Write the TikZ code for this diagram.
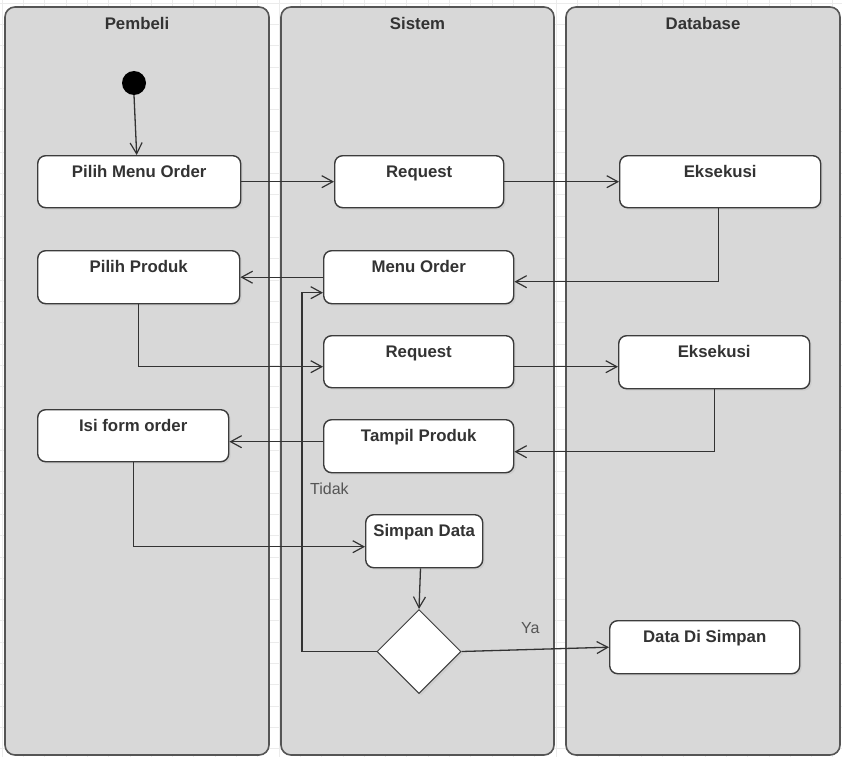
\documentclass[tikz,border=0pt]{standalone}
\usepackage{fontspec}
\setmainfont{Liberation Sans}
\usetikzlibrary{arrows.meta,shapes.geometric,shadows}

\definecolor{lanefill}{HTML}{D8D8D8}
\definecolor{lanedraw}{HTML}{555555}
\definecolor{boxdraw}{HTML}{3C3C3C}
\definecolor{ink}{HTML}{333333}
\definecolor{guard}{HTML}{555555}
\definecolor{gridc}{HTML}{EBEBEB}

\tikzset{
  lane/.style={draw=lanedraw, fill=lanefill, line width=1.6pt, rounded corners=10pt},
  lanetitle/.style={font=\bfseries\fontsize{16.8}{19}\selectfont, text=ink, anchor=base, inner sep=0pt},
  act/.style={draw=boxdraw, fill=white, line width=1.4pt, rounded corners=8pt,
    anchor=north west, inner sep=0pt,
    drop shadow={shadow xshift=2pt, shadow yshift=-2pt, opacity=0.12}},
  acttext/.style={font=\bfseries\fontsize{16.8}{19}\selectfont, text=ink,
    anchor=base, inner sep=0pt, yshift=-22.6pt},
  decision/.style={diamond, draw=boxdraw, fill=white, line width=1pt, aspect=1,
    minimum size=84pt, inner sep=0pt,
    drop shadow={shadow xshift=2pt, shadow yshift=-2pt, opacity=0.12}},
  startnode/.style={circle, fill=black, minimum size=24pt, inner sep=0pt},
  flow/.style={draw=ink, line width=1.3pt, -{Straight Barb[length=11pt,width=12pt,line width=1.2pt]}},
  guardtext/.style={font=\fontsize{16}{19}\selectfont, text=guard, anchor=base west, inner sep=0pt}
}

\begin{document}
\begin{tikzpicture}[x=1pt, y=-1pt]
  \useasboundingbox (0,0) rectangle (842,757);
  \fill[white] (0,0) rectangle (842,757);
  % faint background grid
  \foreach \k in {0,...,39} {
    \draw[gridc, line width=0.6pt] (0, 3+21.3*\k) -- (842, 3+21.3*\k);
    \draw[gridc, line width=0.6pt] (2+21.3*\k, 0) -- (2+21.3*\k, 757);
  }

  % swimlanes
  \draw[lane] (5,7) rectangle (269,755);
  \draw[lane] (281,7) rectangle (554,755);
  \draw[lane] (566,7) rectangle (840,755);
  \node[lanetitle] (tPembeli) at (137,29.5) {Pembeli};
  \node[lanetitle] (tSistem) at (417.5,29.5) {Sistem};
  \node[lanetitle] (tDatabase) at (703,29.5) {Database};

  % start
  \node[startnode] (start) at (134,83) {};

  % activities
  \node[act, minimum width=203pt, minimum height=52pt,
        label={[acttext]north:Pilih Menu Order}] (pmo) at (37,155) {};
  \node[act, minimum width=169pt, minimum height=52pt,
        label={[acttext]north:Request}] (req1) at (334,155) {};
  \node[act, minimum width=201pt, minimum height=52pt,
        label={[acttext]north:Eksekusi}] (eks1) at (619,155) {};

  \node[act, minimum width=202pt, minimum height=53pt,
        label={[acttext]north:Pilih Produk}] (pp) at (37,250) {};
  \node[act, minimum width=190pt, minimum height=53pt,
        label={[acttext]north:Menu Order}] (menu) at (323,250) {};

  \node[act, minimum width=190pt, minimum height=52pt,
        label={[acttext]north:Request}] (req2) at (323,335) {};
  \node[act, minimum width=191pt, minimum height=53pt,
        label={[acttext]north:Eksekusi}] (eks2) at (618,335) {};

  \node[act, minimum width=191pt, minimum height=52pt,
        label={[acttext]north:Isi form order}] (isi) at (37,409) {};
  \node[act, minimum width=190pt, minimum height=53pt,
        label={[acttext]north:Tampil Produk}] (tampil) at (323,419) {};

  \node[act, minimum width=117pt, minimum height=53pt,
        label={[acttext]north:Simpan Data}] (simpan) at (365,514) {};

  \node[decision] (dec) at (419,651.5) {};

  \node[act, minimum width=190pt, minimum height=53pt,
        label={[acttext]north:Data Di Simpan}] (dds) at (609,620) {};

  % connectors
  \draw[flow] (start.south) -- ([xshift=-2.5pt]pmo.north);
  \draw[flow] (pmo.east) -- (req1.west);
  \draw[flow] (req1.east) -- (eks1.west);
  \draw[flow] ([xshift=-1.5pt]eks1.south) |- ([yshift=-4.5pt]menu.east);
  \draw[flow] (menu.west) -- (pp.east);
  \draw[flow] (pp.south) |- ([yshift=-5pt]req2.west);
  \draw[flow] ([yshift=-5pt]req2.east) -- ([yshift=-5pt]req2.east -| eks2.west);
  \draw[flow] (eks2.south) |- ([yshift=-5.5pt]tampil.east);
  \draw[flow] ([yshift=4.5pt]tampil.west) -- ([yshift=4.5pt]tampil.west -| isi.east);
  \draw[flow] (isi.south) |- ([yshift=-5.5pt]simpan.west);
  \draw[flow] ([xshift=1.5pt]dec.north |- simpan.south) -- (dec.north);
  \draw[flow] (dec.east) -- (dds.west);
  \draw[flow] (dec.west) -| ([xshift=-21pt,yshift=-15.5pt]menu.west) -- ([yshift=-15.5pt]menu.west);

  % guards
  \node[guardtext] (gTidak) at (310,494) {Tidak};
  \node[guardtext] (gYa) at (521,633) {Ya};
\end{tikzpicture}
\end{document}
